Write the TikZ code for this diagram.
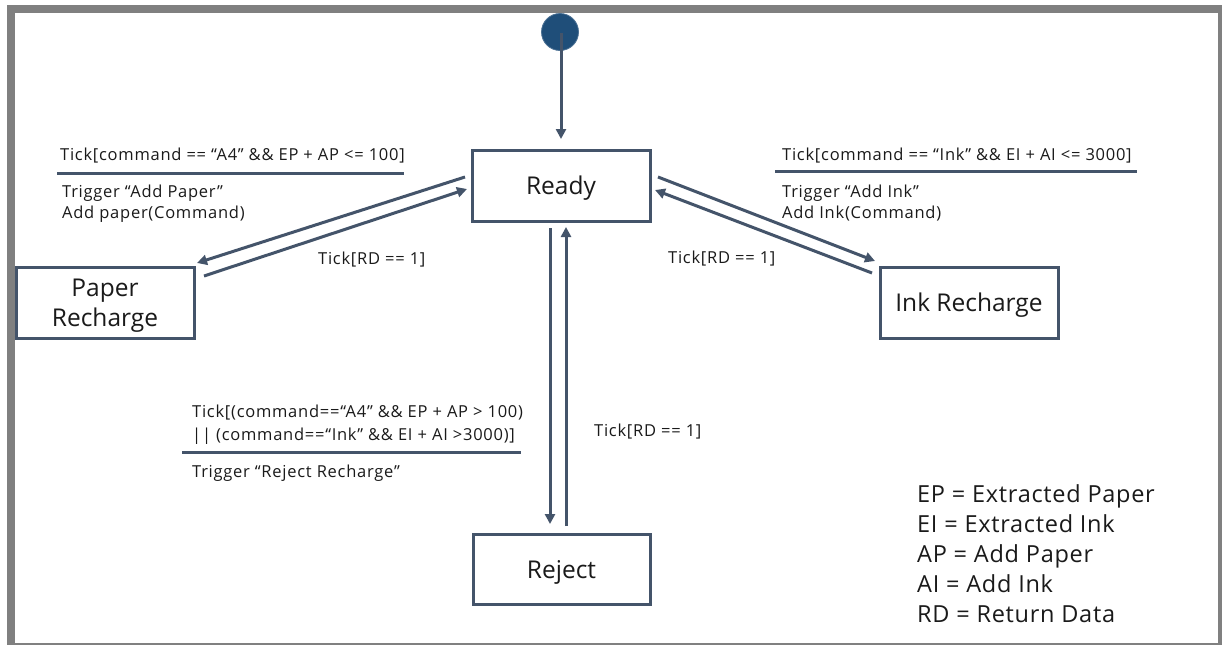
\documentclass[tikz,border=0pt]{standalone}
\usepackage{fontspec}
\setmainfont{Open Sans}
\newfontfamily\lblfont[LetterSpace=4.5]{Open Sans}
\newfontfamily\legfont[LetterSpace=3]{Open Sans}
\usetikzlibrary{arrows.meta}
\definecolor{edge}{HTML}{44546A}
\definecolor{startc}{HTML}{1F4E79}
\definecolor{framec}{HTML}{808080}
\definecolor{txt}{HTML}{1A1A1A}
\tikzset{
  statebox/.style={draw=edge, line width=3pt, fill=white, inner sep=0pt},
  boxtxt/.style={text=txt, font=\fontsize{24.5}{30}\selectfont, align=center, inner sep=0pt, yshift=-3pt},
  trans/.style={draw=edge, line width=3pt, -{Triangle[length=10pt,width=10pt]}},
  lbl/.style={anchor=base west, inner sep=0pt, text=txt, font=\lblfont\fontsize{16.5}{23}\selectfont},
  legend/.style={anchor=base west, inner sep=0pt, text=txt, font=\legfont\fontsize{23.5}{30}\selectfont},
  sep/.style={draw=edge, line width=3pt},
}
\begin{document}
\begin{tikzpicture}[x=1pt,y=-1pt]
\useasboundingbox (0,0) rectangle (1222,645);
\fill[framec] (7,5) rectangle (1222,645);
\fill[white] (15,13) rectangle (1218,643);

% states
\node[statebox, minimum width=178pt, minimum height=71pt, label={[boxtxt]center:Ready}] (ready) at (561,185.5) {};
\node[statebox, minimum width=178pt, minimum height=71pt, label={[boxtxt]center:{Paper\\Recharge}}] (paper) at (105,302.5) {};
\node[statebox, minimum width=178pt, minimum height=71pt, label={[boxtxt]center:Ink Recharge}] (ink) at (969,302.5) {};
\node[statebox, minimum width=177pt, minimum height=70pt, label={[boxtxt]center:Reject}] (reject) at (561.5,569) {};

% start
\node[circle, fill=startc, draw=startc!80!white, line width=0.8pt, minimum size=37pt, inner sep=0pt] (start) at (560,32) {};
\coordinate (s0) at (561,33);
\coordinate (s1) at (561,139);
\draw[trans] (s0) -- (s1);

% Ready <-> Paper
\coordinate (rp0) at (465,177);
\coordinate (rp1) at (197,263);
\coordinate (pr0) at (204,276);
\coordinate (pr1) at (467,189);
\draw[trans] (rp0) -- (rp1);
\draw[trans] (pr0) -- (pr1);

% Ready <-> Ink
\coordinate (ri0) at (658,177);
\coordinate (ri1) at (875,261);
\coordinate (ir0) at (872,273);
\coordinate (ir1) at (655,190);
\draw[trans] (ri0) -- (ri1);
\draw[trans] (ir0) -- (ir1);

% Ready <-> Reject
\coordinate (rj0) at (550,228);
\coordinate (rj1) at (550,524);
\coordinate (jr0) at (566,526);
\coordinate (jr1) at (566,227);
\draw[trans] (rj0) -- (rj1);
\draw[trans] (jr0) -- (jr1);

% labels left
\node[lbl] (l1) at (60,160) {Tick[command == “A4” \&\& EP + AP <= 100]};
\coordinate (sl0) at (57,173);
\coordinate (sl1) at (404,173);
\draw[sep] (sl0) -- (sl1);
\node[lbl] (l2) at (62,197) {Trigger “Add Paper”};
\node[lbl] (l3) at (62,218) {Add paper(Command)};
\node[lbl] (l4) at (318,264) {Tick[RD == 1]};

% labels right
\node[lbl] (r1) at (782,160) {Tick[command == “Ink” \&\& EI + AI <= 3000]};
\coordinate (sr0) at (775,171);
\coordinate (sr1) at (1137,171);
\draw[sep] (sr0) -- (sr1);
\node[lbl] (r2) at (782,197) {Trigger “Add Ink”};
\node[lbl] (r3) at (782,218) {Add Ink(Command)};
\node[lbl] (r4) at (668,263) {Tick[RD == 1]};

% labels bottom
\node[lbl] (b1) at (192,417) {Tick[(command==“A4” \&\& EP + AP > 100)};
\node[lbl] (b2) at (192,440) {|| (command==“Ink” \&\& EI + AI >3000)]};
\coordinate (sb0) at (182,452);
\coordinate (sb1) at (521,452);
\draw[sep] (sb0) -- (sb1);
\node[lbl] (b3) at (192,477) {Trigger “Reject Recharge”};
\node[lbl] (b4) at (594,436) {Tick[RD == 1]};

% legend
\node[legend] (g1) at (917,502) {EP = Extracted Paper};
\node[legend] (g2) at (917,532) {EI = Extracted Ink};
\node[legend] (g3) at (917,562) {AP = Add Paper};
\node[legend] (g4) at (917,592) {AI = Add Ink};
\node[legend] (g5) at (917,622) {RD = Return Data};
\end{tikzpicture}
\end{document}
